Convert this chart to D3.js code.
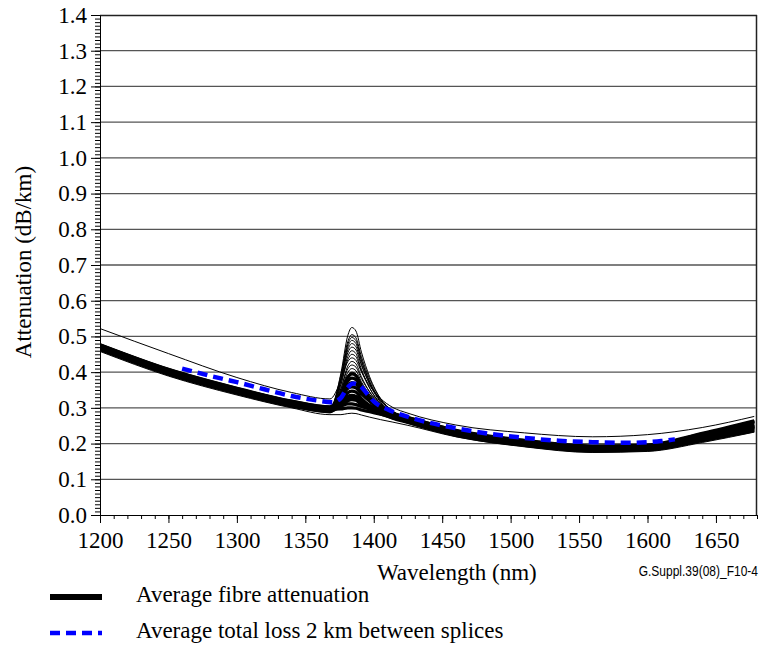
<!DOCTYPE html>
<html>
<head>
<meta charset="utf-8">
<script src="https://cdn.jsdelivr.net/npm/d3@7/dist/d3.min.js"></script>
<style>
  body { margin: 0; background: #fff; }
</style>
</head>
<body>
<script>
// wavelength grid shared by the fibre curves (nm)
const wavelengths = [1200, 1250, 1300, 1340, 1368, 1376, 1381, 1384, 1387, 1391, 1397, 1405, 1414, 1425, 1460, 1510, 1560, 1600, 1640, 1678];

// single fibres, attenuation in dB/km (thin lines)
const fibreA = [0.468, 0.399, 0.346, 0.310, 0.294, 0.397, 0.502, 0.525, 0.515, 0.456, 0.387, 0.325, 0.286, 0.264, 0.228, 0.200, 0.184, 0.187, 0.215, 0.246];
const fibreB = [0.474, 0.405, 0.352, 0.316, 0.300, 0.392, 0.485, 0.505, 0.496, 0.443, 0.381, 0.326, 0.291, 0.270, 0.234, 0.206, 0.190, 0.193, 0.224, 0.258];
const fibreC = [0.465, 0.396, 0.343, 0.307, 0.291, 0.383, 0.477, 0.497, 0.488, 0.435, 0.373, 0.317, 0.282, 0.261, 0.225, 0.197, 0.181, 0.184, 0.211, 0.240];
const fibreD = [0.472, 0.403, 0.350, 0.314, 0.298, 0.383, 0.470, 0.489, 0.480, 0.431, 0.373, 0.321, 0.288, 0.268, 0.232, 0.204, 0.188, 0.191, 0.221, 0.254];
const fibreE = [0.467, 0.398, 0.345, 0.309, 0.293, 0.376, 0.462, 0.480, 0.471, 0.423, 0.367, 0.315, 0.283, 0.263, 0.227, 0.199, 0.183, 0.186, 0.214, 0.244];
const fibreF = [0.476, 0.407, 0.354, 0.318, 0.302, 0.377, 0.454, 0.470, 0.462, 0.419, 0.367, 0.321, 0.290, 0.272, 0.236, 0.208, 0.192, 0.195, 0.227, 0.262];
const fibreG = [0.464, 0.395, 0.342, 0.306, 0.290, 0.366, 0.444, 0.460, 0.452, 0.408, 0.356, 0.309, 0.279, 0.260, 0.224, 0.196, 0.180, 0.183, 0.209, 0.238];
const fibreH = [0.470, 0.401, 0.348, 0.312, 0.296, 0.365, 0.435, 0.450, 0.443, 0.403, 0.355, 0.312, 0.284, 0.266, 0.230, 0.202, 0.186, 0.189, 0.218, 0.250];
const fibreI = [0.522, 0.452, 0.385, 0.343, 0.325, 0.377, 0.429, 0.440, 0.433, 0.401, 0.362, 0.326, 0.301, 0.285, 0.252, 0.230, 0.219, 0.225, 0.245, 0.276];
const fibreJ = [0.466, 0.397, 0.344, 0.308, 0.292, 0.353, 0.417, 0.430, 0.423, 0.387, 0.344, 0.305, 0.279, 0.262, 0.226, 0.198, 0.182, 0.185, 0.212, 0.242];
const fibreK = [0.475, 0.406, 0.353, 0.317, 0.301, 0.354, 0.409, 0.420, 0.414, 0.382, 0.345, 0.310, 0.286, 0.271, 0.235, 0.207, 0.191, 0.194, 0.226, 0.260];
const fibreL = [0.469, 0.400, 0.347, 0.311, 0.295, 0.346, 0.399, 0.410, 0.404, 0.373, 0.337, 0.303, 0.280, 0.265, 0.229, 0.201, 0.185, 0.188, 0.217, 0.248];
const fibreM = [0.477, 0.408, 0.355, 0.319, 0.303, 0.346, 0.391, 0.400, 0.395, 0.368, 0.337, 0.307, 0.287, 0.273, 0.237, 0.209, 0.193, 0.196, 0.229, 0.264];
const fibreLow = [0.458, 0.389, 0.336, 0.300, 0.281, 0.281, 0.284, 0.285, 0.284, 0.280, 0.274, 0.267, 0.260, 0.251, 0.219, 0.191, 0.175, 0.178, 0.203, 0.232];

// the many fibres with a small water peak, they make the dark band
const dense1 = [0.464, 0.395, 0.342, 0.306, 0.290, 0.337, 0.385, 0.395, 0.390, 0.361, 0.327, 0.296, 0.275, 0.260, 0.224, 0.196, 0.180, 0.183, 0.209, 0.238];
const dense2 = [0.475, 0.406, 0.353, 0.317, 0.301, 0.337, 0.375, 0.383, 0.379, 0.356, 0.328, 0.302, 0.284, 0.271, 0.235, 0.207, 0.191, 0.194, 0.226, 0.260];
const dense3 = [0.468, 0.399, 0.346, 0.310, 0.294, 0.328, 0.364, 0.371, 0.367, 0.345, 0.319, 0.294, 0.277, 0.264, 0.228, 0.200, 0.184, 0.187, 0.215, 0.246];
const dense4 = [0.477, 0.408, 0.355, 0.319, 0.303, 0.328, 0.354, 0.359, 0.356, 0.339, 0.319, 0.299, 0.285, 0.273, 0.237, 0.209, 0.193, 0.196, 0.229, 0.264];
const dense5 = [0.463, 0.394, 0.341, 0.305, 0.289, 0.314, 0.342, 0.347, 0.344, 0.326, 0.306, 0.286, 0.271, 0.259, 0.223, 0.195, 0.179, 0.182, 0.208, 0.236];
const dense6 = [0.472, 0.403, 0.350, 0.314, 0.298, 0.314, 0.332, 0.335, 0.332, 0.320, 0.306, 0.290, 0.279, 0.268, 0.232, 0.204, 0.188, 0.191, 0.221, 0.254];
const dense7 = [0.466, 0.397, 0.344, 0.308, 0.292, 0.305, 0.320, 0.323, 0.321, 0.310, 0.297, 0.283, 0.272, 0.262, 0.226, 0.198, 0.182, 0.185, 0.212, 0.242];
const dense8 = [0.476, 0.407, 0.354, 0.318, 0.302, 0.305, 0.311, 0.311, 0.309, 0.304, 0.297, 0.289, 0.281, 0.272, 0.236, 0.208, 0.192, 0.195, 0.227, 0.262];
const dense9 = [0.470, 0.401, 0.348, 0.312, 0.296, 0.297, 0.300, 0.300, 0.299, 0.294, 0.289, 0.282, 0.275, 0.266, 0.230, 0.202, 0.186, 0.189, 0.218, 0.250];

// average fibre attenuation (thick black)
const avgFibre = [0.470, 0.401, 0.348, 0.312, 0.296, 0.311, 0.328, 0.331, 0.328, 0.317, 0.303, 0.288, 0.276, 0.266, 0.230, 0.202, 0.186, 0.189, 0.218, 0.250];

// average total loss, 2 km between splices (blue dashed)
const lossWavelengths = [1260, 1280, 1300, 1320, 1340, 1360, 1370, 1376, 1380, 1385, 1390, 1395, 1400, 1410, 1420, 1440, 1460, 1485, 1510, 1535, 1560, 1585, 1600, 1610, 1620];
const avgLoss = [0.410, 0.390, 0.372, 0.352, 0.333, 0.320, 0.316, 0.328, 0.352, 0.368, 0.362, 0.340, 0.318, 0.296, 0.281, 0.259, 0.243, 0.227, 0.216, 0.208, 0.204, 0.202, 0.204, 0.207, 0.212];

const thinFibres = [fibreA, fibreB, fibreC, fibreD, fibreE, fibreF, fibreG, fibreH, fibreI, fibreJ, fibreK, fibreL, fibreM, fibreLow];
const denseFibres = [dense1, dense2, dense3, dense4, dense5, dense6, dense7, dense8, dense9];

// ticks
const xTicks = [1200, 1250, 1300, 1350, 1400, 1450, 1500, 1550, 1600, 1650];
const yTicks = [0.0, 0.1, 0.2, 0.3, 0.4, 0.5, 0.6, 0.7, 0.8, 0.9, 1.0, 1.1, 1.2, 1.3, 1.4];
const legendLabels = ["Average fibre attenuation", "Average total loss 2 km between splices"];

const serif = "'Liberation Serif', 'Times New Roman', Times, serif";

let margin = null,
    width = null,
    height = null;

let svg = null, plot = null;
let x, y = null; // scales

setupCanvasSize();
appendSvg("body");
setupScales();
appendGrid();
appendCurves();
appendAxes();
appendLabels();
appendLegend();

function setupCanvasSize() {
  margin = {top: 15, left: 100, bottom: 131, right: 3};
  width = 760 - margin.left - margin.right;
  height = 646 - margin.top - margin.bottom;
}

function appendSvg(domElement) {
  svg = d3.select(domElement).append("svg")
    .attr("width", width + margin.left + margin.right)
    .attr("height", height + margin.top + margin.bottom);

  plot = svg.append("g")
    .attr("transform", `translate(${margin.left}, ${margin.top})`);

  plot.append("clipPath").attr("id", "plot-area")
    .append("rect").attr("width", width).attr("height", height);
}

function setupScales() {
  x = d3.scaleLinear().domain([1200, 1680]).range([0, width]);
  y = d3.scaleLinear().domain([0, 1.4]).range([height, 0]);
}

function appendGrid() {
  plot.append("g").attr("class", "grid")
    .selectAll("line")
    .data(yTicks.filter(d => d > 0 && d < 1.4))
    .enter()
      .append("line")
        .attr("x1", 0)
        .attr("x2", width)
        .attr("y1", d => y(d))
        .attr("y2", d => y(d))
        .attr("stroke", "#555")
        .attr("stroke-width", 1.3);

  // frame on top and right
  plot.append("line").attr("x1", 0).attr("x2", width).attr("y1", 0.5).attr("y2", 0.5)
    .attr("stroke", "#222").attr("stroke-width", 1.5);
  plot.append("line").attr("x1", width - 0.5).attr("x2", width - 0.5).attr("y1", 0).attr("y2", height)
    .attr("stroke", "#222").attr("stroke-width", 1.5);
}

function appendCurves() {
  const line = d3.line()
    .x(d => x(d[0]))
    .y(d => y(d[1]))
    .curve(d3.curveMonotoneX);

  const curves = plot.append("g").attr("clip-path", "url(#plot-area)");

  curves.selectAll("path.dense")
    .data(denseFibres)
    .enter()
      .append("path")
        .attr("class", "dense")
        .attr("d", d => line(d3.zip(wavelengths, d)))
        .attr("fill", "none")
        .attr("stroke", "#000")
        .attr("stroke-width", 3.2);

  curves.selectAll("path.fibre")
    .data(thinFibres)
    .enter()
      .append("path")
        .attr("class", "fibre")
        .attr("d", d => line(d3.zip(wavelengths, d)))
        .attr("fill", "none")
        .attr("stroke", "#000")
        .attr("stroke-width", 1);

  curves.append("path")
    .attr("d", line(d3.zip(wavelengths, avgFibre)))
    .attr("fill", "none")
    .attr("stroke", "#000")
    .attr("stroke-width", 5);

  curves.append("path")
    .attr("d", line(d3.zip(lossWavelengths, avgLoss)))
    .attr("fill", "none")
    .attr("stroke", "#0000ff")
    .attr("stroke-width", 4.5)
    .attr("stroke-dasharray", "10,6");
}

function appendAxes() {
  // x axis, minor ticks every 10 nm
  plot.append("g")
    .attr("transform", `translate(0, ${height})`)
    .call(d3.axisBottom(x).tickValues(d3.range(1200, 1681, 10)).tickSize(4).tickSizeOuter(0).tickFormat(""))
    .call(g => g.select(".domain").remove());

  plot.append("g")
    .attr("class", "x-axis")
    .attr("transform", `translate(0, ${height})`)
    .call(d3.axisBottom(x).tickValues(xTicks).tickSize(8).tickSizeOuter(0).tickPadding(9).tickFormat(d3.format("d")));

  // y axis, minor ticks every 0.01
  plot.append("g")
    .call(d3.axisLeft(y).tickValues(d3.range(0, 141).map(i => i / 100)).tickSize(5).tickSizeOuter(0).tickFormat(""))
    .call(g => g.select(".domain").remove());

  plot.append("g")
    .attr("class", "y-axis")
    .call(d3.axisLeft(y).tickValues(yTicks).tickSize(9).tickSizeOuter(0).tickPadding(4).tickFormat(d3.format(".1f")));

  plot.selectAll(".x-axis, .y-axis")
    .attr("font-family", serif)
    .attr("font-size", 23);
  plot.selectAll(".x-axis text, .y-axis text")
    .attr("font-family", serif)
    .attr("fill", "#000");
  plot.selectAll(".tick line").attr("stroke", "#000");
  plot.selectAll(".domain").attr("stroke", "#000");
}

function appendLabels() {
  svg.append("text")
    .attr("transform", "translate(31, 262) rotate(-90)")
    .attr("text-anchor", "middle")
    .attr("font-family", serif)
    .attr("font-size", 23)
    .text("Attenuation (dB/km)");

  svg.append("text")
    .attr("x", 377)
    .attr("y", 580)
    .attr("font-family", serif)
    .attr("font-size", 23)
    .text("Wavelength (nm)");

  svg.append("text")
    .attr("transform", "translate(758, 576) scale(1, 1.2)")
    .attr("text-anchor", "end")
    .attr("font-family", "'Liberation Sans', Arial, sans-serif")
    .attr("font-size", 12)
    .text("G.Suppl.39(08)_F10-4");
}

function appendLegend() {
  const legend = svg.append("g").attr("class", "legend");
  const rows = legend.selectAll("g")
    .data(legendLabels)
    .enter()
      .append("g")
        .attr("transform", (d, i) => `translate(0, ${597 + i * 36})`);

  rows.append("line")
    .attr("x1", 50)
    .attr("x2", 102)
    .attr("stroke", (d, i) => i === 0 ? "#000" : "#0000ff")
    .attr("stroke-width", (d, i) => i === 0 ? 6 : 4.5)
    .attr("stroke-dasharray", (d, i) => i === 0 ? null : "10,6");

  rows.append("text")
    .attr("x", 136)
    .attr("y", 5)
    .attr("font-family", serif)
    .attr("font-size", 23)
    .text(d => d);
}
</script>
</body>
</html>
